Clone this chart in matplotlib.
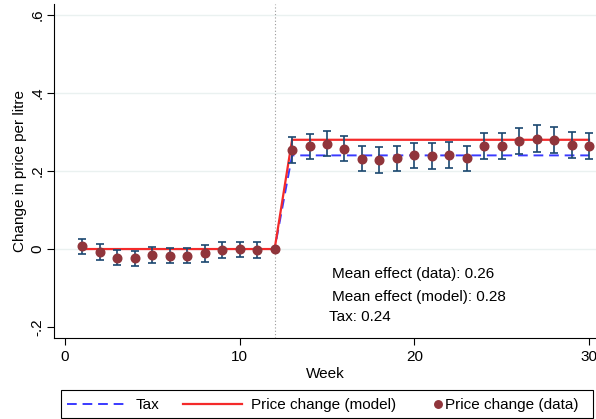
import matplotlib
matplotlib.use("Agg")
import matplotlib.pyplot as plt
from matplotlib.lines import Line2D
from matplotlib.patches import Rectangle

plt.rcParams["font.family"] = ["Liberation Sans", "DejaVu Sans"]

# ── Data ──────────────────────────────────────────────────────────────────────
weeks = list(range(1, 31))
price_data = [0.007, -0.007, -0.022, -0.024, -0.015, -0.017, -0.017, -0.011,
              -0.003, -0.001, -0.003, 0.0,
              0.253, 0.264, 0.270, 0.257, 0.232, 0.228, 0.233, 0.240,
              0.238, 0.241, 0.233, 0.264, 0.265, 0.276, 0.283, 0.279,
              0.267, 0.265]
price_err = [0.020, 0.020, 0.020, 0.020, 0.020, 0.020, 0.020, 0.022,
             0.020, 0.020, 0.020, 0.0,
             0.033, 0.032, 0.032, 0.032, 0.032, 0.033, 0.032, 0.033,
             0.033, 0.033, 0.032, 0.033, 0.033, 0.033, 0.034, 0.033,
             0.033, 0.033]
model_weeks = [1, 12, 13, 30]
model_vals = [0.0, 0.0, 0.28, 0.28]
tax_weeks = [1, 12, 13, 30]
tax_vals = [0.0, 0.0, 0.24, 0.24]
treat_week = 12
notes = ["Mean effect (data): 0.26", "Mean effect (model): 0.28", "Tax: 0.24"]
legend_labels = ["Tax", "Price change (model)", "Price change (data)"]

TAX_C = "#3a3aff"
MODEL_C = "#f42a2a"
DOT_C = "#90353b"
ERR_C = "#1a476f"
FS = 11

W, H = 596, 419


def px(x, y):
    """pixel position (from top-left) -> figure fraction"""
    return x / W, 1 - y / H


# ── Plot ──────────────────────────────────────────────────────────────────────
fig = plt.figure(figsize=(W / 100, H / 100), dpi=100)
ax = fig.add_axes([54 / W, 1 - 338 / H, (W - 54) / W, 334 / H])

for yv in [0, 0.2, 0.4, 0.6]:
    ax.axhline(yv, color="#eaf1f0", lw=1.0, zorder=0)
ax.axvline(treat_week, color="#999999", lw=0.8, ls=(0, (1, 2)), zorder=1)

ax.plot(tax_weeks, tax_vals, color=TAX_C, lw=1.4, ls=(0, (5, 3)), zorder=2)
ax.plot(model_weeks, model_vals, color=MODEL_C, lw=1.6, zorder=3)
ax.errorbar(weeks, price_data, yerr=price_err, fmt="none",
            ecolor=ERR_C, elinewidth=1.2, capsize=3.2, capthick=1.2,
            zorder=4)
ax.plot(weeks, price_data, "o", color=DOT_C, ms=6.2, zorder=5)

ax.text(15.3, -0.065, notes[0], fontsize=FS, va="center")
ax.text(15.3, -0.122, notes[1], fontsize=FS, va="center")
ax.text(15.1, -0.173, notes[2], fontsize=FS, va="center")

ax.set_xlim(-0.63, 30.4)
ax.set_ylim(-0.228, 0.628)
ax.set_xticks([0, 10, 20, 30])
ax.set_yticks([-0.2, 0, 0.2, 0.4, 0.6])
ax.set_yticklabels(["-.2", "0", ".2", ".4", ".6"], rotation=90, va="center")
ax.tick_params(labelsize=FS, length=5, width=0.8, direction="out")
ax.tick_params(axis="y", pad=2)
ax.spines["top"].set_visible(False)
ax.spines["right"].set_visible(False)
ax.set_xlabel("Week", fontsize=FS, labelpad=2)
ax.set_ylabel("Change in price per litre", fontsize=FS, labelpad=2)

# ── Legend (drawn by hand to match the Stata layout) ──────────────────────────
x0, y0 = px(60.5, 417.5)
x1, y1 = px(592.5, 389.5)
fig.add_artist(Rectangle((x0, y0), x1 - x0, y1 - y0, transform=fig.transFigure,
                         fill=False, edgecolor="black", lw=0.8))
ly = px(0, 403.5)[1]
fig.add_artist(Line2D([px(67, 0)[0], px(126, 0)[0]], [ly, ly], color=TAX_C,
                      lw=1.4, ls=(0, (5, 3)), transform=fig.transFigure))
fig.add_artist(Line2D([px(183, 0)[0], px(242, 0)[0]], [ly, ly], color=MODEL_C,
                      lw=1.6, transform=fig.transFigure))
fig.add_artist(Line2D([px(438, 0)[0]], [ly], marker="o", color=DOT_C, ms=5.4,
                      ls="none", transform=fig.transFigure))
for xt, lab in zip([136, 251, 445], legend_labels):
    fig.text(px(xt, 0)[0], ly, lab, fontsize=FS, va="center_baseline")

fig.savefig("out.png", dpi=100)
